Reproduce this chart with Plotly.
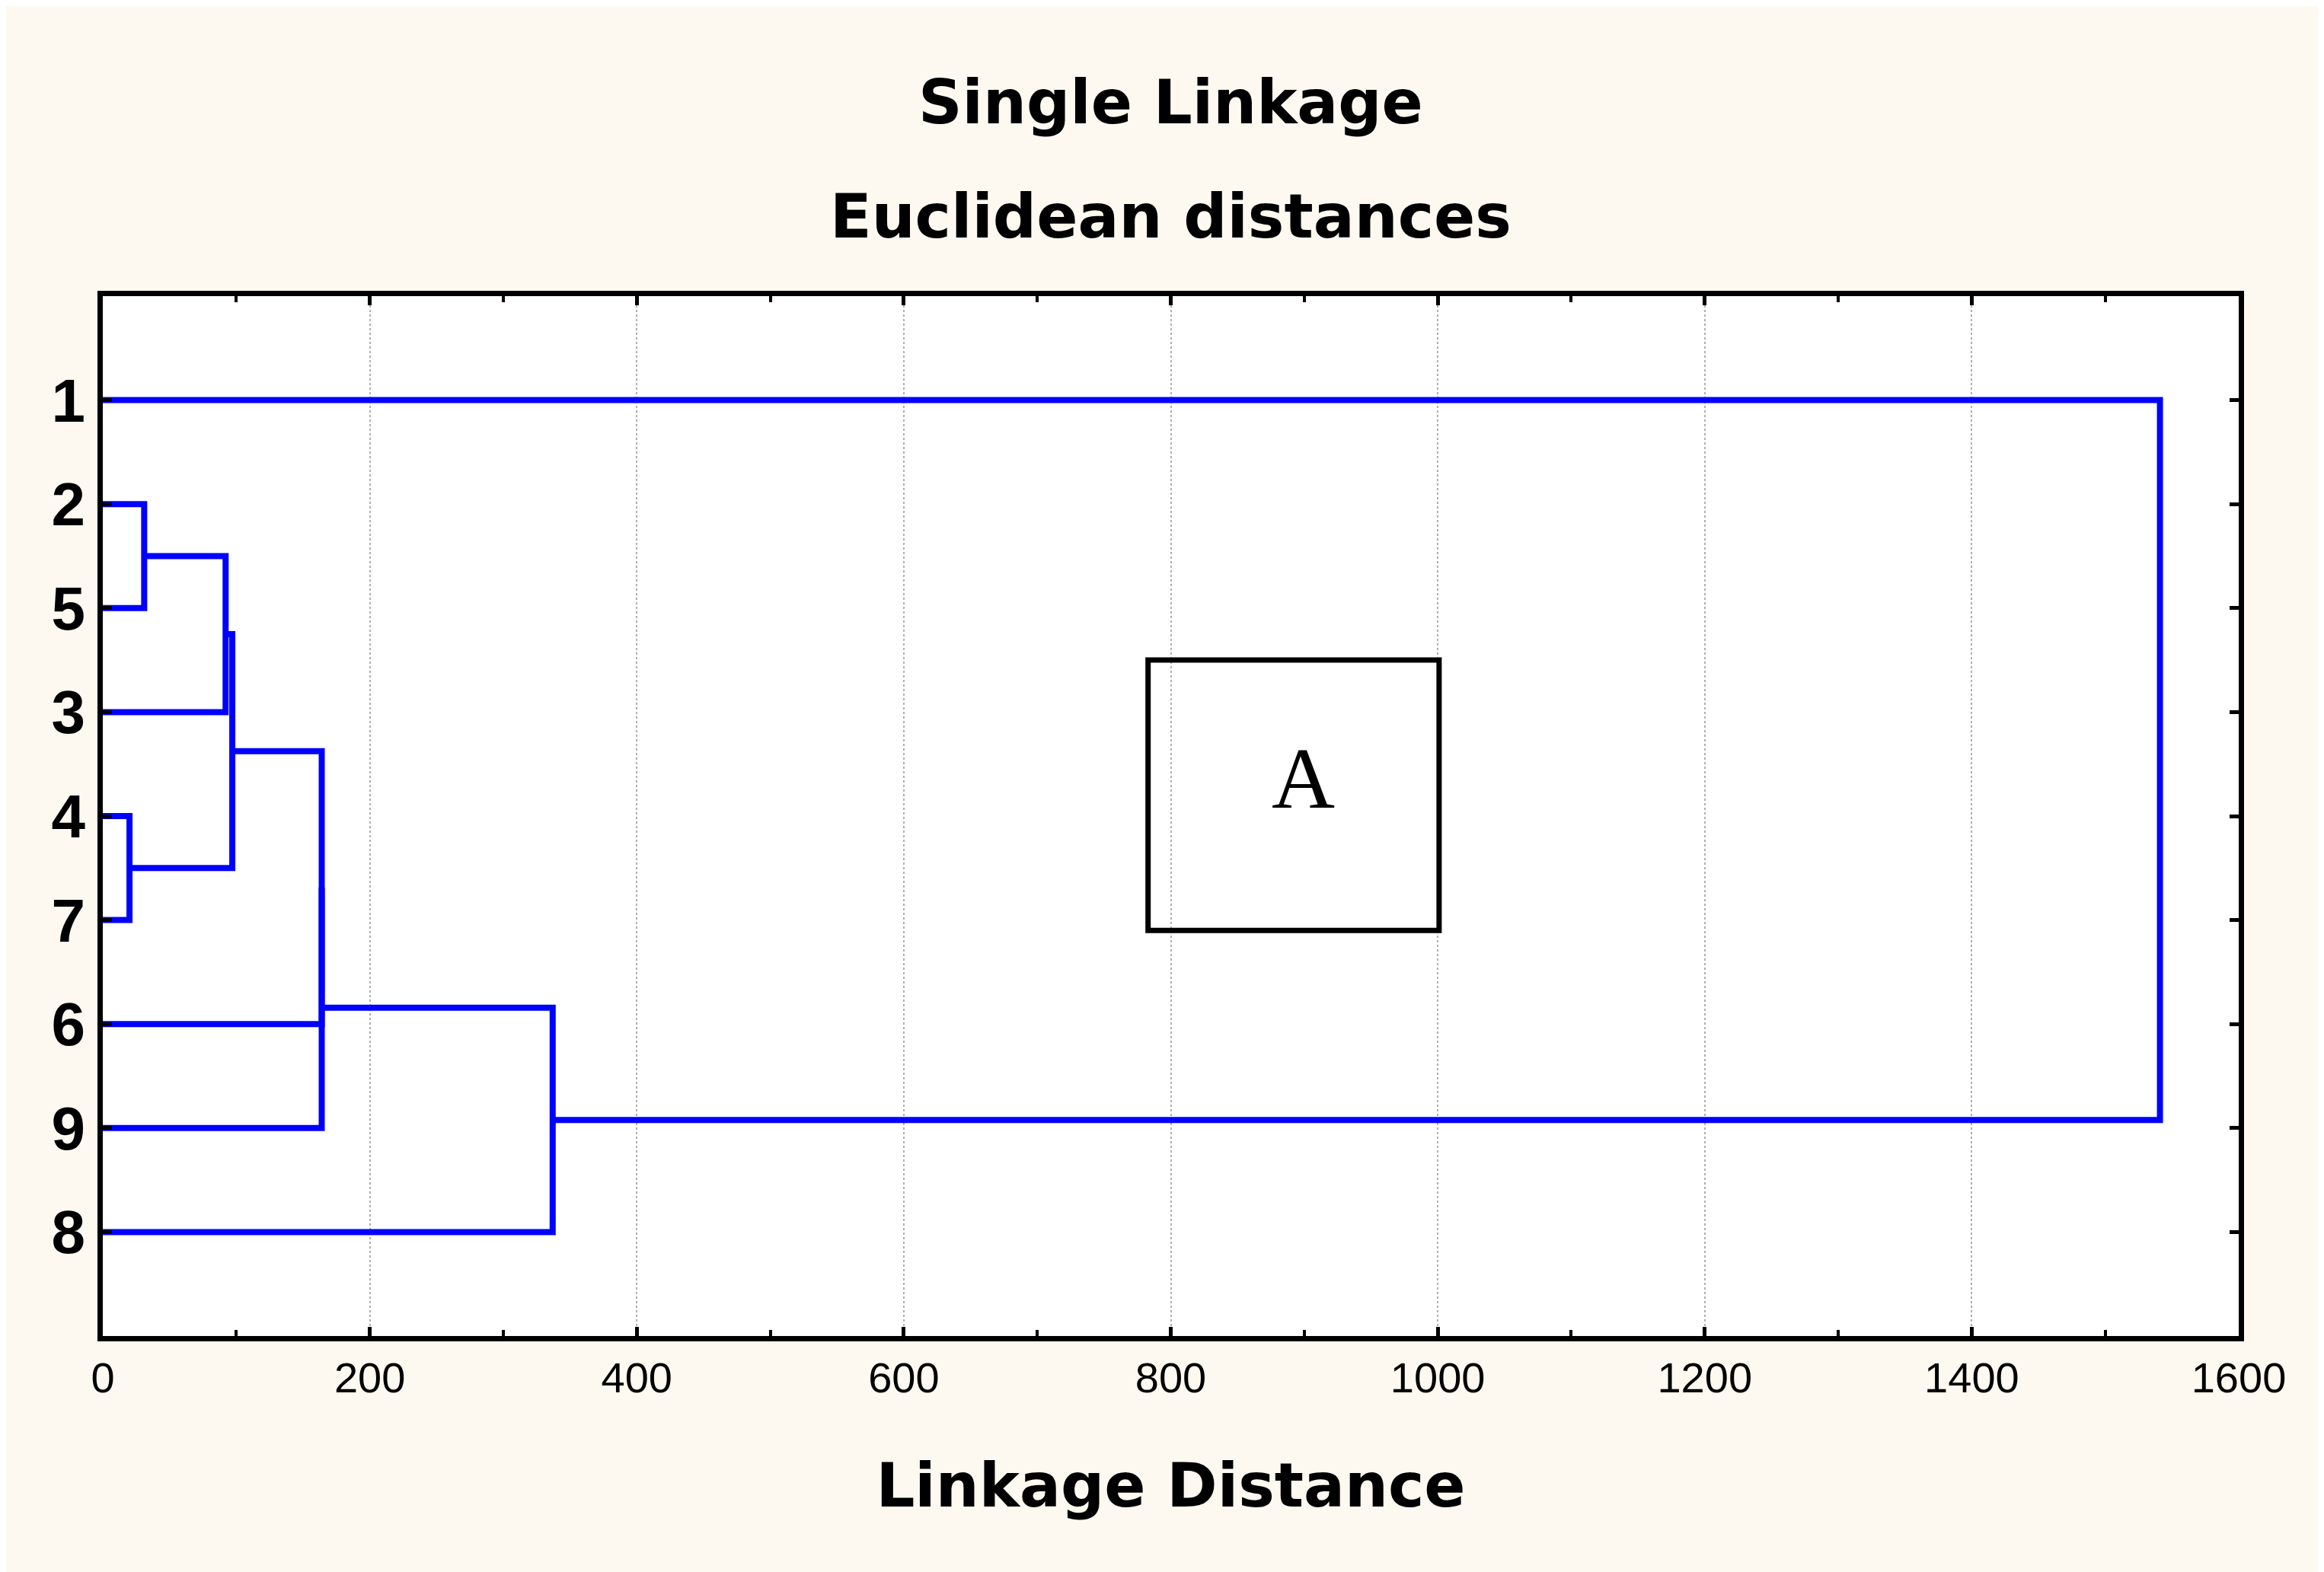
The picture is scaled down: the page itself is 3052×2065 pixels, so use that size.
import plotly.graph_objects as go

# leaf order top->bottom, and merges (left, right, height)
leaves = ["1", "2", "5", "3", "4", "7", "6", "9", "8"]
merges = [
    ("2", "5", 31),
    ("C1", "3", 92),
    ("4", "7", 20),
    ("C2", "C3", 97),
    ("C4", "6", 164),
    ("C5", "9", 164),
    ("C6", "8", 337),
    ("C7", "1", 1541),
]
xticks = [0, 200, 400, 600, 800, 1000, 1200, 1400, 1600]

pos = {name: i + 1 for i, name in enumerate(leaves)}
hgt = {name: 0 for name in leaves}
xs, ys = [], []
for k, (a, b, h) in enumerate(merges):
    xs += [hgt[a], h, h, hgt[b], None]
    ys += [pos[a], pos[a], pos[b], pos[b], None]
    c = "C%d" % (k + 1)
    pos[c] = (pos[a] + pos[b]) / 2
    hgt[c] = h

fig = go.Figure()
fig.add_trace(go.Scatter(x=xs, y=ys, mode="lines", line=dict(color="#0000ff", width=8),
                         hoverinfo="skip", showlegend=False))

fig.add_shape(type="rect", x0=783, x1=1001, y0=3.5, y1=6.1, line=dict(color="black", width=7))
fig.add_annotation(x=899, y=4.64, text="A", showarrow=False,
                   font=dict(family="Liberation Serif", size=115, color="black"))

titlefont = dict(family="DejaVu Sans", size=80, color="black")
fig.add_annotation(xref="paper", yref="paper", x=0.5, y=1, yshift=255, yanchor="middle",
                   text="<b>Single Linkage</b>", showarrow=False, font=titlefont)
fig.add_annotation(xref="paper", yref="paper", x=0.5, y=1, yshift=105, yanchor="middle",
                   text="<b>Euclidean distances</b>", showarrow=False, font=titlefont)

fig.update_layout(
    width=3052, height=2065,
    paper_bgcolor="#fdf9f0", plot_bgcolor="white",
    margin=dict(l=127, r=120, t=381, b=318),
    font=dict(family="Liberation Sans", color="black"),
)
fig.update_xaxes(range=[0, 1600], tickvals=xticks, tickfont=dict(size=56),
                 showgrid=True, gridcolor="#b0b0b0", griddash="dot", gridwidth=2,
                 showline=True, linecolor="black", linewidth=7, mirror="ticks",
                 ticks="inside", ticklen=12, tickwidth=5, tickcolor="black",
                 minor=dict(dtick=100, ticks="inside", ticklen=8, tickwidth=4, tickcolor="black"),
                 zeroline=False,
                 title=dict(text="<b>Linkage Distance</b>", font=dict(family="DejaVu Sans", size=80), standoff=85))
fig.update_yaxes(range=[10, 0], tickvals=list(range(1, 10)), ticktext=["<b>%s</b>" % s for s in leaves],
                 tickfont=dict(size=80), showgrid=False, zeroline=False,
                 showline=True, linecolor="black", linewidth=7, mirror="ticks",
                 ticks="inside", ticklen=12, tickwidth=5, tickcolor="black")

fig.write_html("out.html")
